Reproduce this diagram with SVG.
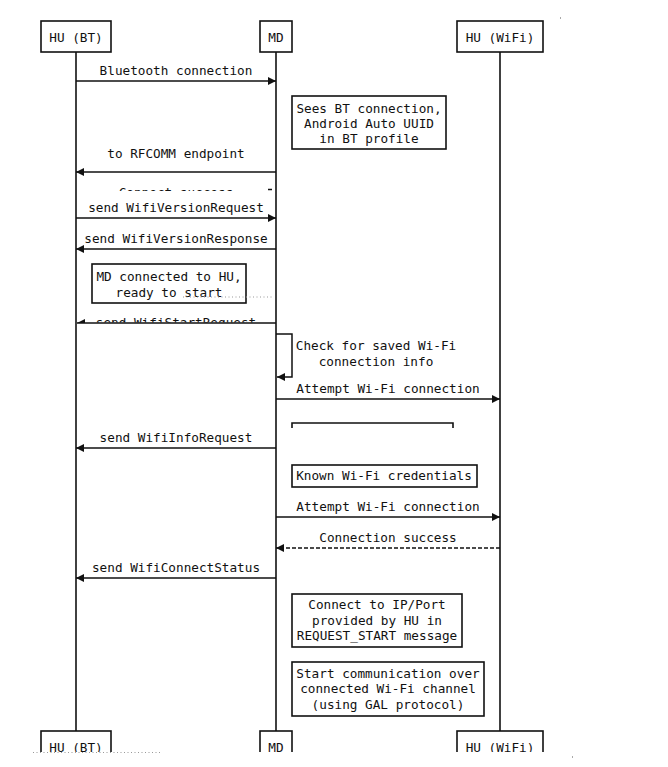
<svg xmlns="http://www.w3.org/2000/svg" width="668" height="767" viewBox="0 0 668 767">
<defs>
<style>
text{font-family:"DejaVu Sans Mono","Liberation Mono",monospace;font-size:12.7px;fill:#111;text-anchor:middle}
.box{fill:#fff;stroke:#111;stroke-width:1.6}
.open{fill:none;stroke:#111;stroke-width:1.6}
.life{stroke:#111;stroke-width:1.6}
.msg{stroke:#111;stroke-width:1.5;fill:none}
.dash{stroke-dasharray:4 2}
.dots{stroke:#999;stroke-width:1;stroke-dasharray:1 2.5}
</style>
<marker id="ah" viewBox="0 0 10 10" refX="10" refY="5" markerWidth="9" markerHeight="8" markerUnits="userSpaceOnUse" orient="auto">
<path d="M0,0 L10,5 L0,10 z" fill="#111"/>
</marker>
<clipPath id="c1"><rect x="0" y="0" width="668" height="191"/></clipPath>
<clipPath id="c2"><rect x="0" y="0" width="668" height="322.5"/></clipPath>
<clipPath id="cb"><rect x="0" y="0" width="668" height="752"/></clipPath>
</defs>
<rect width="668" height="767" fill="#fff"/>

<g id="lifelines">
<line class="life" x1="76" y1="52" x2="76" y2="731"/>
<line class="life" x1="276" y1="52" x2="276" y2="731"/>
<line class="life" x1="500" y1="52" x2="500" y2="731"/>
</g>

<g id="hu-bt-top"><rect class="box" x="41" y="21" width="70" height="31"/><text x="76" y="42">HU (BT)</text></g>
<g id="md-top"><rect class="box" x="260" y="21" width="32" height="31"/><text x="276" y="42">MD</text></g>
<g id="hu-wifi-top"><rect class="box" x="457" y="21" width="86" height="31"/><text x="500" y="42">HU (WiFi)</text></g>

<g id="bottom-boxes" clip-path="url(#cb)">
<g id="hu-bt-bottom"><rect class="box" x="41" y="731" width="70" height="31"/><text x="76" y="752">HU (BT)</text></g>
<g id="md-bottom"><rect class="box" x="260" y="731" width="32" height="31"/><text x="276" y="752">MD</text></g>
<g id="hu-wifi-bottom"><rect class="box" x="457" y="731" width="86" height="31"/><text x="500" y="752">HU (WiFi)</text></g>
</g>

<g id="connectors">
<line class="msg" x1="76" y1="81" x2="276" y2="81" marker-end="url(#ah)"/>
<text x="176" y="75">Bluetooth connection</text>

<line class="msg" x1="276" y1="172" x2="76" y2="172" marker-end="url(#ah)"/>
<text x="176" y="158">to RFCOMM endpoint</text>

<g clip-path="url(#c1)"><text x="176" y="197">Connect success</text></g>
<line class="msg" x1="268" y1="189.5" x2="272" y2="189.5"/>

<line class="msg" x1="76" y1="218" x2="276" y2="218" marker-end="url(#ah)"/>
<text x="176" y="212">send WifiVersionRequest</text>

<line class="msg" x1="276" y1="249" x2="76" y2="249" marker-end="url(#ah)"/>
<text x="176" y="243">send WifiVersionResponse</text>

<g clip-path="url(#c2)"><text x="176" y="327">send WifiStartRequest</text></g>
<line class="msg" x1="276" y1="323" x2="77" y2="323"/>
<path d="M77,323 L85,319 L85,323 z" fill="#111"/>

<path class="msg" d="M276,334 H292 V377 H277" marker-end="url(#ah)"/>
<text x="376" y="350">Check for saved Wi-Fi</text>
<text x="376" y="366">connection info</text>

<line class="msg" x1="276" y1="399" x2="500" y2="399" marker-end="url(#ah)"/>
<text x="388" y="393">Attempt Wi-Fi connection</text>

<line class="msg" x1="276" y1="448" x2="76" y2="448" marker-end="url(#ah)"/>
<text x="176" y="442">send WifiInfoRequest</text>

<line class="msg" x1="276" y1="517" x2="500" y2="517" marker-end="url(#ah)"/>
<text x="388" y="511">Attempt Wi-Fi connection</text>

<line class="msg dash" x1="500" y1="548" x2="276" y2="548" marker-end="url(#ah)"/>
<text x="388" y="542">Connection success</text>

<line class="msg" x1="276" y1="578" x2="76" y2="578" marker-end="url(#ah)"/>
<text x="176" y="572">send WifiConnectStatus</text>
</g>

<g id="note-sees-bt"><rect class="box" x="292" y="96" width="154" height="53"/>
<text x="369" y="113">Sees BT connection,</text>
<text x="369" y="128">Android Auto UUID</text>
<text x="369" y="143">in BT profile</text></g>

<g id="note-md-connected"><rect class="box" x="92" y="264" width="154" height="39"/>
<text x="169" y="281">MD connected to HU,</text>
<text x="169" y="297">ready to start</text></g>

<g id="note-empty"><path class="open" d="M292,428 V423 H453 V428"/></g>

<g id="note-known"><rect class="box" x="292" y="465" width="185" height="22"/>
<text x="384" y="480">Known Wi-Fi credentials</text></g>

<g id="note-connect-ip"><rect class="box" x="292" y="594" width="170" height="53"/>
<text x="377" y="609">Connect to IP/Port</text>
<text x="377" y="625">provided by HU in</text>
<text x="377" y="640">REQUEST_START message</text></g>

<g id="note-start-comm"><rect class="box" x="292" y="662" width="192" height="54"/>
<text x="388" y="678">Start communication over</text>
<text x="388" y="693">connected Wi-Fi channel</text>
<text x="388" y="709">(using GAL protocol)</text></g>

<g id="artifacts">
<line class="dots" x1="183" y1="297" x2="274" y2="297"/>
<line class="dots" x1="33" y1="752.5" x2="162" y2="752.5"/>
<rect x="560" y="17" width="1" height="2" fill="#aaa"/>
<rect x="572" y="756" width="1" height="2" fill="#aaa"/>
</g>
</svg>
